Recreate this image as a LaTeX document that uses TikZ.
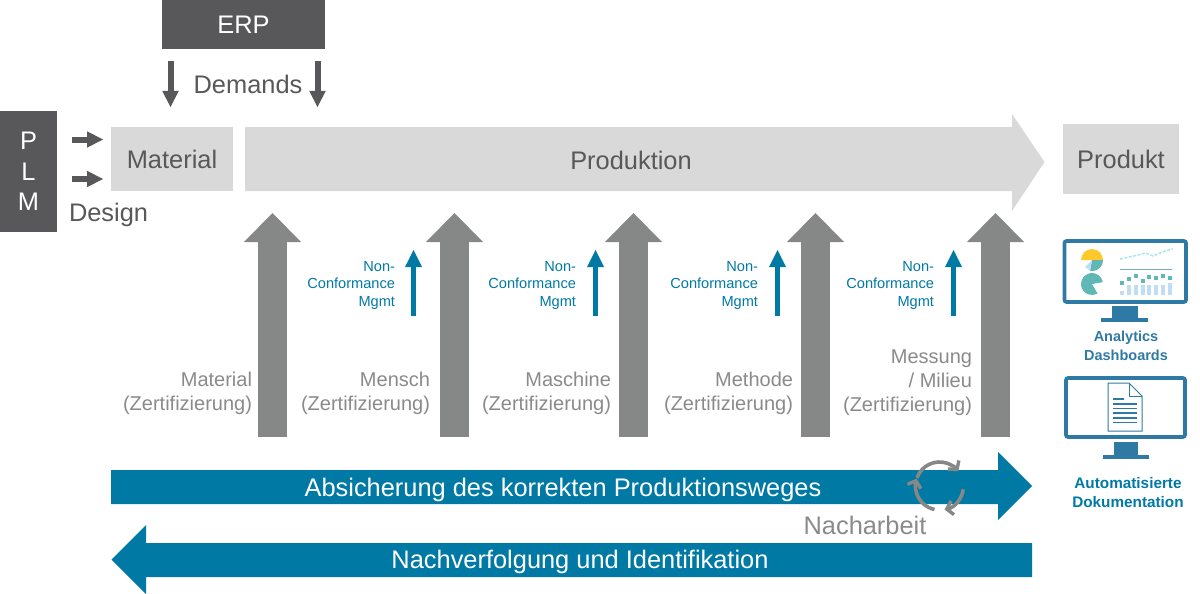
\documentclass[tikz,border=0pt]{standalone}
\usepackage{fontspec}
\setmainfont{Liberation Sans}
\usetikzlibrary{arrows.meta}
\definecolor{darkbox}{HTML}{58585A}
\definecolor{lightbox}{HTML}{D9D9D9}
\definecolor{midgray}{HTML}{868887}
\definecolor{labelgray}{HTML}{8A8A8A}
\definecolor{tealbar}{HTML}{0079A5}
\definecolor{monblue}{HTML}{2F7AA5}
\definecolor{iconteal}{HTML}{5FB8B5}
\definecolor{iconyellow}{HTML}{FFC92E}
\definecolor{iconpale}{HTML}{BFDDF5}
\definecolor{iconcyan}{HTML}{A8E6EE}
\tikzset{
  x=1pt,y=-1pt,
  inner sep=0pt,outer sep=0pt,
  box/.style={fill=#1,draw=none,anchor=center,text centered},
  bigfont/.style={font=\fontsize{25.4}{30}\selectfont},
  barfont/.style={font=\fontsize{25.4}{29}\selectfont,text=white},
  glabel/.style={font=\fontsize{20}{24}\selectfont,text=labelgray,align=right,anchor=east},
  ncm/.style={font=\fontsize{14.6}{17.5}\selectfont,text=tealbar,align=right,anchor=east},
  monlabel/.style={font=\fontsize{14.5}{19}\selectfont\bfseries,align=center},
  downarrow/.style={draw=darkbox,line width=6pt,-{Triangle[length=16pt,width=16.5pt,line width=0pt]}},
  riser/.style={draw=midgray,line width=29pt,-{Triangle[length=29pt,width=57pt,line width=0pt]}},
  ncarrow/.style={draw=tealbar,line width=5pt,-{Triangle[length=17pt,width=17pt,line width=0pt]}},
  frame/.style={draw=monblue,line width=3.6pt,rounded corners=2pt,fill=white},
  loopline/.style={draw=midgray,line width=3.6pt,-{Straight Barb[length=6pt,width=14pt,line width=3.4pt]}},
}
\begin{document}
\begin{tikzpicture}
\useasboundingbox (0,0) rectangle (1200,594);
% top boxes
\node[box=darkbox,minimum width=163pt,minimum height=49.5pt,text=white,bigfont] (erp) at (243.5,24.75) {ERP};
\node[box=darkbox,minimum width=57pt,minimum height=121pt,text=white,align=center,font=\fontsize{25.4}{30.5}\selectfont] (plm) at (28.5,171.5) {P\\L\\M};
\node[box=lightbox,minimum width=122pt,minimum height=64pt,text=darkbox,bigfont] (material) at (172,159) {Material};
\node[box=lightbox,minimum width=116pt,minimum height=70pt,text=darkbox,bigfont] (produkt) at (1121,159) {Produkt};
% production arrow
\fill[lightbox] (245,127) -- (1012,127) -- (1012,114) -- (1044.5,162) -- (1012,211) -- (1012,191) -- (245,191) -- cycle;
\node[text=darkbox,bigfont] (produktion) at (631,160) {Produktion};
% demand / design arrows
\coordinate (d1s) at (170.5,61); \coordinate (d1e) at (170.5,107);
\coordinate (d2s) at (317.5,61); \coordinate (d2e) at (317.5,107);
\draw[downarrow] (d1s) -- (d1e);
\draw[downarrow] (d2s) -- (d2e);
\node[text=darkbox,bigfont] (demands) at (248,84) {Demands};
\coordinate (p1s) at (72,139.5); \coordinate (p1e) at (103,139.5);
\coordinate (p2s) at (72,179); \coordinate (p2e) at (103,179);
\draw[downarrow] (p1s) -- (p1e);
\draw[downarrow] (p2s) -- (p2e);
\node[text=darkbox,bigfont,anchor=west] (design) at (69,214.5) {Design};
% risers
\foreach \n/\cx in {a/272.5,b/454.5,c/633.5,d/815.5,e/995.5}{
  \coordinate (r\n s) at (\cx,437);
  \coordinate (r\n e) at (\cx,213);
  \draw[riser] (r\n s) -- (r\n e);
}
% NCM arrows and labels
\foreach \n/\cx/\tx in {a/413.5/395,b/595.5/576,c/777.5/758,d/953.5/934}{
  \coordinate (nc\n s) at (\cx,316);
  \coordinate (nc\n e) at (\cx,250);
  \draw[ncarrow] (nc\n s) -- (nc\n e);
  \node[ncm] (nctext\n) at (\tx,285) {Non-\\Conformance\\Mgmt};
}
% grey labels
\node[glabel] (lmat) at (252,393) {Material\\(Zertifizierung)};
\node[glabel] (lmen) at (430,393) {Mensch\\(Zertifizierung)};
\node[glabel] (lmas) at (611,393) {Maschine\\(Zertifizierung)};
\node[glabel] (lmet) at (793,393) {Methode\\(Zertifizierung)};
\node[glabel] (lmes) at (972,383) {Messung\\/ Milieu\\(Zertifizierung)};
% bars
\fill[tealbar] (111,470) -- (998,470) -- (998,452) -- (1032,486) -- (998,520) -- (998,504) -- (111,504) -- cycle;
\node[barfont] (b1t) at (563,490) {Absicherung des korrekten Produktionsweges};
\fill[tealbar] (1032,543) -- (146,543) -- (146,525) -- (111.5,559.5) -- (146,594) -- (146,577) -- (1032,577) -- cycle;
\node[barfont] (b2t) at (580,562) {Nachverfolgung und Identifikation};
\node[font=\fontsize{25.4}{29}\selectfont,text=labelgray] (nach) at (865,525) {Nacharbeit};
% rework loop
\coordinate (lc) at (939.5,486);
\draw[loopline] (lc) ++(-160:24) arc[start angle=-160,end angle=-38,radius=24];
\draw[loopline] (lc) ++(8:24) arc[start angle=8,end angle=78,radius=24];
\draw[loopline] (lc) ++(102:24) arc[start angle=102,end angle=198,radius=24];
% dashboard monitor
\draw[frame] (1064.5,241) rectangle (1186,302);
\fill[monblue] (1112,306) rectangle (1138,318);
\fill[monblue] (1101,318) rectangle (1148,322);
\fill[iconyellow] (1081,260) arc[start angle=180,end angle=360,radius=11] -- cycle;
\fill[iconteal] (1092,260) -- (1103,260) arc[start angle=0,end angle=100,radius=11] -- cycle;
\fill[iconpale] (1092,260) -- (1090,270.5) -- (1085,267) -- cycle;
\fill[iconteal] (1092,284) -- ++(-10:11) arc[start angle=-10,end angle=-300,radius=11] -- cycle;
\draw[iconcyan,line width=1.5pt,dash pattern=on 3pt off 1.5pt] (1120,259) -- (1136,255.5) -- (1146,253) -- (1153,256) -- (1165,251) -- (1173,249);
\draw[monblue!65,line width=1pt] (1120,269) -- (1172,269);
\foreach \dx/\dy in {1122/283,1129/279,1136/276,1143/281,1149/277,1156/278,1163/276,1170/278}{
  \fill[iconteal] (\dx-2,\dy-1.7) rectangle (\dx+2,\dy+1.7);
}
\foreach \bx/\bt in {1122/291,1129/285,1136/285,1143/285,1149/285,1156/285,1163/285,1170/283}{
  \fill[iconpale] (\bx-1.8,\bt) rectangle (\bx+1.8,295);
}
\node[monlabel,text=monblue] (analytics) at (1126,345.5) {Analytics\\Dashboards};
% documentation monitor
\draw[frame] (1066,378) rectangle (1185,437);
\fill[monblue] (1114,442) rectangle (1138,455);
\fill[monblue] (1103,455) rectangle (1149,459);
\draw[monblue,line width=1pt,fill=white] (1108,383) -- (1129,383) -- (1142,396) -- (1142,431) -- (1108,431) -- cycle;
\draw[monblue,line width=1pt] (1129,383) -- (1129,396) -- (1142,396);
\draw[monblue,line width=1.4pt] (1113,399) -- (1124,399);
\foreach \ly in {404,408.5,413,418,422.5}{
  \draw[monblue,line width=1.4pt] (1113,\ly) -- (1137,\ly);
}
\node[monlabel,text=tealbar,font=\fontsize{15.3}{19}\selectfont\bfseries] (auto) at (1128,492.5) {Automatisierte\\Dokumentation};
\end{tikzpicture}
\end{document}
